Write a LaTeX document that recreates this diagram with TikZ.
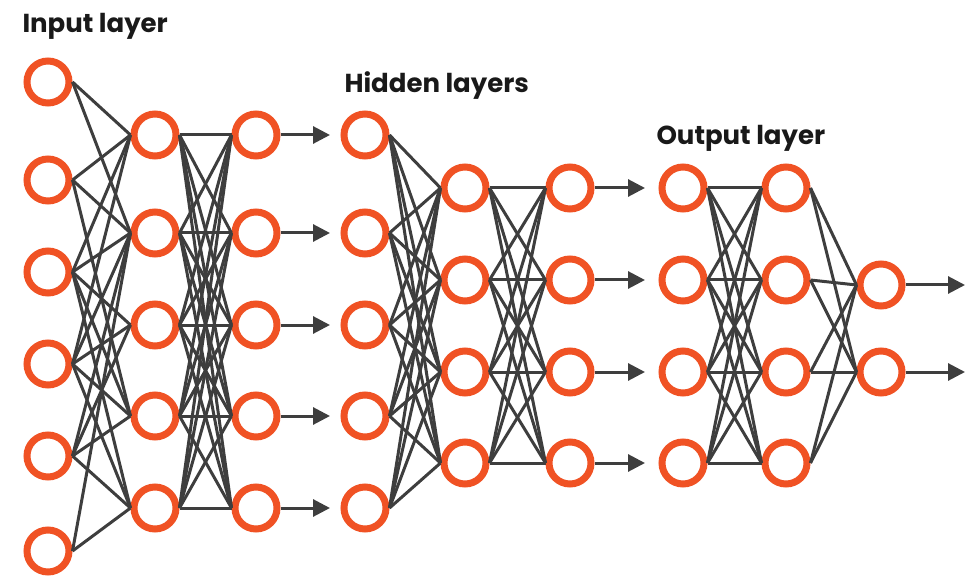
\documentclass[tikz,border=0pt]{standalone}
\usepackage{fontspec}
\setmainfont{Poppins}
\usepackage{tikz}
\usetikzlibrary{arrows.meta}
\definecolor{ringred}{RGB}{240,82,36}
\definecolor{wiregray}{RGB}{62,62,62}

\begin{document}
\begin{tikzpicture}[x=1pt,y=-1pt,>={Triangle[length=17pt,width=17pt]},
    neuron/.style={circle,draw=ringred,line width=7pt,fill=white,minimum size=42pt,inner sep=0pt},
    wire/.style={draw=wiregray,line width=3pt},
    feed/.style={wire,->},
    title/.style={anchor=base west,font=\bfseries\fontsize{26}{30}\selectfont,text=black!90}]
  \useasboundingbox (0,0) rectangle (969,577);

  % Layer captions.
  \node[title] (tin) at (19,33) {Input layer};
  \node[title] (thid) at (341,93) {Hidden layers};
  \node[title] (tout) at (653,145) {Output layer};

  % Input layer and first hidden block.
  \foreach \y [count=\i] in {82,180,272,364,456,551}
    \node[neuron] (a\i) at (48,\y) {};
  \foreach \y [count=\i] in {135,233,325,416,508}{
    \node[neuron] (b\i) at (155,\y) {};
    \node[neuron] (c\i) at (256,\y) {};
    \node[neuron] (d\i) at (365,\y) {};
    \coordinate (cx\i) at (330,\y);
  }

  % Second hidden block.
  \foreach \y [count=\i] in {188,280,372,463}{
    \node[neuron] (e\i) at (465,\y) {};
    \node[neuron] (f\i) at (570,\y) {};
    \node[neuron] (g\i) at (683,\y) {};
    \node[neuron] (h\i) at (786,\y) {};
    \coordinate (fx\i) at (645,\y);
  }

  % Output nodes.
  \foreach \y [count=\i] in {285,372}{
    \node[neuron] (k\i) at (881,\y) {};
    \coordinate (kx\i) at (965,\y);
  }

  % Sparse links from the inputs.
  \foreach \i/\j in {1/1,1/2,2/1,2/2,2/4,3/1,3/2,3/3,3/4,3/5,
                     4/1,4/2,4/3,4/4,4/5,5/2,5/3,5/4,5/5,6/2,6/5}
    \draw[wire] (a\i.east) -- (b\j.west);

  % Dense links.
  \foreach \i in {1,...,5}{
    \foreach \j in {1,...,5}
      \draw[wire] (b\i.east) -- (c\j.west);
    \foreach \j in {1,...,4}
      \draw[wire] (d\i.east) -- (e\j.west);
    \draw[feed] (c\i.east) -- (cx\i);
  }
  \foreach \i in {1,...,4}{
    \foreach \j in {1,...,4}{
      \draw[wire] (e\i.east) -- (f\j.west);
      \draw[wire] (g\i.east) -- (h\j.west);
    }
    \foreach \j in {1,2}
      \draw[wire] (h\i.east) -- (k\j.west);
    \draw[feed] (f\i.east) -- (fx\i);
  }
  \foreach \i in {1,2}
    \draw[feed] (k\i.east) -- (kx\i);
\end{tikzpicture}
\end{document}
